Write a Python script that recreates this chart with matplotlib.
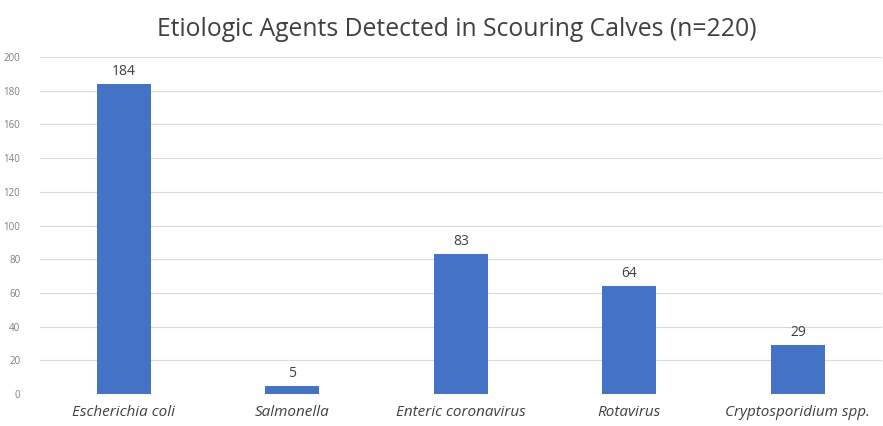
import matplotlib
matplotlib.use("Agg")
import matplotlib.pyplot as plt

categories = ["Escherichia coli", "Salmonella", "Enteric coronavirus",
              "Rotavirus", "Cryptosporidium spp."]
counts = [184, 5, 83, 64, 29]
yticks = list(range(0, 201, 20))

plt.rcParams['font.family'] = ['Open Sans', 'DejaVu Sans']

fig = plt.figure(figsize=(8.83, 4.26), dpi=100)
ax = fig.add_axes([0.045, 0.075, 0.954, 0.791])

x = list(range(len(categories)))
bars = ax.bar(x, counts, width=0.32, color='#4472C4', zorder=3)

for xi, v in zip(x, counts):
    ax.text(xi, v + 3, str(v), ha='center', va='bottom', fontsize=10, color='#404040')

ax.set_xlim(-0.5, len(categories) - 0.5)
ax.set_ylim(0, 200)
ax.set_yticks(yticks)
ax.set_yticklabels([str(t) for t in yticks], fontsize=7, color='#7F7F7F')
ax.set_xticks(x)
ax.set_xticklabels(categories, fontsize=11, style='italic', color='#404040')
ax.tick_params(axis='both', length=0)
ax.tick_params(axis='x', pad=8)
ax.tick_params(axis='y', pad=14)

ax.grid(axis='y', color='#D9D9D9', linewidth=0.8, zorder=0)
for s in ax.spines.values():
    s.set_visible(False)

# chart title
fig.text(0.517, 0.93, "Etiologic Agents Detected in Scouring Calves (n=220)",
         fontsize=17.8, color='#404040', ha='center', va='center')

fig.savefig("out.png", dpi=100)
